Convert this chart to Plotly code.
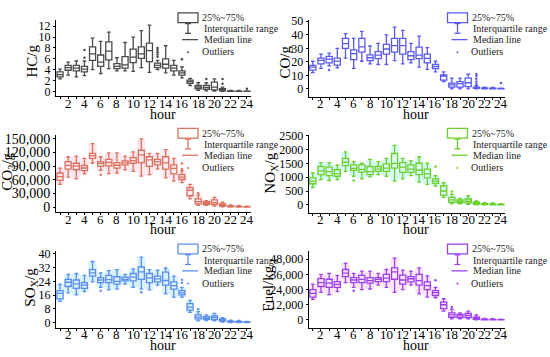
import plotly.graph_objects as go

W, H = 550, 357
hours = list(range(1, 25))

# ---------------- data ----------------
hc_low = [2.3, 3.0, 2.7, 2.9, 4.0, 3.3, 4.2, 3.8, 3.8, 3.7, 4.4, 3.5, 4.0, 3.4, 3.0, 2.5, 1.1, 0.2, 0.1, 0.05, 0.0, 0.0, 0.0, 0.0]
hc_q1 = [2.7, 3.9, 3.8, 3.6, 5.7, 4.6, 5.8, 4.2, 4.3, 5.3, 6.1, 5.5, 4.4, 4.3, 3.8, 3.0, 1.5, 0.5, 0.4, 0.3, 0.1, 0.02, 0.01, 0.0]
hc_med = [3.1, 4.4, 4.3, 4.1, 6.9, 5.4, 7.4, 4.6, 4.9, 6.3, 6.9, 7.5, 4.8, 5.0, 4.3, 3.4, 1.8, 0.8, 0.7, 0.8, 0.3, 0.05, 0.03, 0.02]
hc_q3 = [3.6, 4.8, 4.8, 4.6, 8.2, 6.7, 9.1, 5.1, 6.4, 7.8, 8.2, 8.9, 5.2, 6.0, 4.8, 3.8, 2.1, 1.1, 1.1, 1.7, 0.5, 0.1, 0.08, 0.05]
hc_high = [4.1, 5.4, 5.6, 5.6, 9.8, 9.2, 10.9, 6.2, 9.0, 10.0, 11.2, 12.2, 5.7, 8.4, 5.7, 4.5, 2.4, 1.6, 1.6, 2.3, 0.8, 0.2, 0.2, 0.1]
hc_out_h = [4, 4, 13, 13, 13, 13, 13, 16, 19, 21, 21, 24]
hc_out_v = [7.6, 6.2, 8.0, 7.6, 7.2, 6.8, 6.4, 5.9, 2.3, 2.3, 1.4, 0.5]

co_low = [12, 15.1, 17, 15.6, 22.8, 15.1, 20.4, 18.5, 18, 18, 20.9, 18.5, 19.2, 16.1, 14.4, 12.5, 5.3, 0, 0, 0, 0, 0, 0, 0]
co_q1 = [13.9, 18.5, 19.2, 17.5, 30, 21.6, 27.2, 20.9, 22.4, 25.7, 27.2, 25.7, 21.6, 22.4, 19.2, 14.9, 6.5, 1.2, 1.2, 1.7, 0.3, 0.1, 0.05, 0]
co_med = [16, 21, 22, 20.5, 33.5, 26, 31, 23, 25, 29.5, 32, 32, 24.5, 25, 22.5, 16.5, 9.5, 3, 3.8, 4.5, 0.8, 0.3, 0.2, 0.1]
co_q3 = [17.3, 22.8, 24, 22.8, 37.3, 28.8, 37.3, 25.2, 27.6, 32.9, 37.3, 37.3, 27.6, 30.8, 25.7, 18, 10.3, 4.3, 5.3, 7.9, 1.2, 0.7, 0.5, 0.3]
co_high = [20.4, 25.7, 26.4, 30, 40.9, 37.3, 42.5, 31.7, 33.7, 40, 45.7, 43.3, 33.7, 39, 30.5, 20.4, 12.5, 7.9, 7.9, 10.8, 2.4, 1.3, 1.0, 0.6]
co_out_h = [3, 21, 21, 21, 21, 21, 24]
co_out_v = [14, 3.6, 5.5, 7.5, 9.5, 11, 4.3]

co2_low = [50000, 65700, 62000, 73000, 96400, 80700, 73600, 75000, 82100, 78600, 67900, 71400, 83600, 64300, 57100, 53600, 17900, 3600, 3600, 2100, 700, 0, 0, 0]
co2_q1 = [58600, 83600, 82100, 80000, 107100, 89300, 90700, 85700, 92900, 96400, 97900, 89300, 92900, 83600, 72900, 60700, 25000, 7100, 5700, 5700, 2100, 500, 300, 100]
co2_med = [67000, 91500, 90000, 86000, 113000, 96000, 98000, 92000, 97000, 102000, 115000, 104000, 100000, 97000, 85000, 66000, 37000, 12000, 9000, 10000, 4500, 1200, 800, 400]
co2_q3 = [75000, 100000, 96400, 91400, 117900, 100000, 105000, 97900, 101400, 108600, 125000, 110700, 105000, 110700, 92900, 71400, 42900, 17900, 12100, 15700, 7100, 2500, 1800, 1000]
co2_high = [85700, 110700, 112100, 107000, 139300, 110700, 119300, 119300, 112100, 121400, 150000, 117900, 117900, 126400, 107000, 80000, 50000, 26400, 14300, 21400, 10700, 5000, 4000, 2000]
co2_out_h = [6, 16, 16, 18]
co2_out_v = [71000, 96000, 84000, 30700]

nox_low = [622, 916, 880, 916, 1209, 1033, 939, 1010, 1092, 1033, 857, 939, 1057, 822, 740, 681, 270, 35, 35, 23, 0, 0, 0, 0]
nox_q1 = [763, 1092, 1057, 1033, 1420, 1244, 1186, 1092, 1209, 1209, 1327, 1174, 1174, 1092, 974, 775, 352, 94, 70, 70, 23, 10, 5, 2]
nox_med = [860, 1230, 1200, 1130, 1540, 1320, 1280, 1200, 1290, 1330, 1500, 1360, 1290, 1250, 1120, 860, 500, 180, 120, 130, 60, 25, 15, 8]
nox_q3 = [974, 1385, 1362, 1268, 1679, 1444, 1444, 1385, 1385, 1479, 1855, 1526, 1444, 1503, 1291, 939, 681, 270, 176, 211, 94, 45, 35, 20]
nox_high = [1150, 1526, 1526, 1444, 1913, 1561, 1503, 1644, 1561, 1679, 2148, 1679, 1597, 1738, 1503, 1057, 798, 387, 235, 329, 141, 80, 70, 40]
nox_out_h = [6, 16, 18]
nox_out_v = [880, 1385, 480]

sox_low = [12.3, 17.3, 16.1, 18, 23.7, 20.5, 19.1, 19.5, 22.4, 20.5, 19.5, 19.1, 21.8, 16.7, 14.8, 14.8, 5.9, 0.9, 1.1, 0.9, 0.2, 0, 0, 0]
sox_q1 = [13.8, 21, 19.9, 19.9, 27.1, 23.3, 23.3, 22.4, 24.3, 24.3, 25.2, 23.3, 23.7, 21.8, 19.5, 16.1, 7.2, 2.1, 1.9, 1.7, 0.8, 0.2, 0.1, 0.05]
sox_med = [17, 23.5, 22.5, 21.8, 29, 24.8, 25, 24, 25.2, 26.5, 29.5, 26, 25.5, 24.5, 21.5, 17.3, 9, 3.2, 2.6, 2.8, 1.4, 0.4, 0.3, 0.15]
sox_q3 = [18.6, 25.2, 24.8, 23.3, 30.9, 26.2, 27.5, 26.7, 26.5, 28.6, 32.4, 28.6, 27.1, 29.4, 23.7, 18.6, 11, 4.4, 3.4, 3.8, 2.1, 0.8, 0.6, 0.3]
sox_high = [22.4, 28.1, 28.6, 27.5, 35.6, 29, 30.3, 30.9, 28.1, 31.3, 38.1, 30.9, 30.5, 31.8, 27.1, 20.5, 12.9, 6.3, 4.4, 5.3, 2.8, 1.4, 1.2, 0.6]
sox_out_h = [6, 11, 16, 16, 18]
sox_out_v = [18.6, 17.6, 25, 23, 7.8]

fuel_low = [16200, 21800, 20000, 22300, 29500, 25700, 23900, 24400, 27500, 25700, 21800, 23900, 27500, 20500, 18000, 17500, 6900, 800, 800, 800, 0, 0, 0, 0]
fuel_q1 = [18000, 26400, 25700, 25700, 34100, 29500, 29500, 29000, 30300, 30300, 32100, 28200, 30000, 27500, 23900, 19300, 9000, 2100, 1800, 1800, 500, 100, 50, 20]
fuel_med = [21000, 29500, 29000, 28000, 37000, 31500, 32000, 31000, 32000, 33000, 38000, 31500, 32500, 31000, 27000, 21500, 12000, 4000, 3200, 3500, 1300, 300, 200, 100]
fuel_q3 = [23900, 32600, 32100, 30300, 39800, 33400, 35200, 33400, 33400, 35900, 41100, 35400, 34100, 35900, 30000, 23100, 14100, 5600, 4400, 5100, 2100, 700, 500, 300]
fuel_high = [28200, 35900, 36700, 35200, 44900, 36700, 38500, 38500, 36700, 39800, 48800, 39300, 38500, 41100, 34700, 25700, 16700, 8500, 5600, 6900, 3900, 1300, 1000, 600]
fuel_out_h = [6, 16, 18]
fuel_out_v = [23100, 31300, 10300]

x_ticktext = [str(h) if h % 2 == 0 else "" for h in hours]
legend_texts = ["25%~75%", "Interquartile range", "Median line", "Outliers"]

# ---------------- panel definitions ----------------
FONT = "Times New Roman, Liberation Serif, serif"
def fx(px): return px / W
def fy(py): return 1 - py / H

panels = [
    dict(title="HC/g", low=hc_low, q1=hc_q1, med=hc_med, q3=hc_q3, high=hc_high, oh=hc_out_h, ov=hc_out_v,
         color="#4a4a4a", shade=None, col=0, row=0, yr=[-0.9, 13.2], tv=[0, 2, 4, 6, 8, 10, 12], fmt="d",
         tfs=12, tx=32, ty=57),
    dict(title="CO/g", low=co_low, q1=co_q1, med=co_med, q3=co_q3, high=co_high, oh=co_out_h, ov=co_out_v,
         color="#5a5af0", shade=None, col=1, row=0, yr=[-6, 51.2], tv=[0, 10, 20, 30, 40, 50], fmt="d",
         tfs=12, tx=285, ty=58),
    dict(title="CO<sub>2</sub>/g", low=co2_low, q1=co2_q1, med=co2_med, q3=co2_q3, high=co2_high, oh=co2_out_h, ov=co2_out_v,
         color="#d9725f", shade="rgba(252,212,226,0.55)", col=0, row=1, yr=[-10700, 157900],
         tv=[0, 30000, 60000, 90000, 120000, 150000], fmt=",d", tfs=14, tx=8, ty=170),
    dict(title="NO<sub>X</sub>/g", low=nox_low, q1=nox_q1, med=nox_med, q3=nox_q3, high=nox_high, oh=nox_out_h, ov=nox_out_v,
         color="#6fcf2a", shade="rgba(195,248,244,0.7)", col=1, row=1, yr=[-278, 2514],
         tv=[0, 500, 1000, 1500, 2000, 2500], fmt="d", tfs=12, tx=271, ty=172),
    dict(title="SO<sub>X</sub>/g", low=sox_low, q1=sox_q1, med=sox_med, q3=sox_q3, high=sox_high, oh=sox_out_h, ov=sox_out_v,
         color="#5b8def", shade="rgba(200,236,250,0.7)", col=0, row=2, yr=[-2.96, 41.8],
         tv=[0, 8, 16, 24, 32, 40], fmt="d", tfs=12, tx=31, ty=289),
    dict(title="Fuel/kg", low=fuel_low, q1=fuel_q1, med=fuel_med, q3=fuel_q3, high=fuel_high, oh=fuel_out_h, ov=fuel_out_v,
         color="#9b40ee", shade="rgba(250,212,240,0.6)", col=1, row=2, yr=[-6500, 54500],
         tv=[0, 12000, 24000, 36000, 48000], fmt=",d", tfs=12, tx=268, ty=290),
]

XDOM = [(56, 251), (308.7, 505)]
ROW_DY = [0, 118.6, 237.2]
LEG_DX = [0, 269.5]

fig = go.Figure()
layout = dict(width=W, height=H, margin=dict(l=0, r=0, t=0, b=0), autosize=False,
              paper_bgcolor="white", plot_bgcolor="rgba(0,0,0,0)", showlegend=False,
              font=dict(family=FONT, color="black"))
shapes, annotations = [], []

for i, p in enumerate(panels):
    n = i + 1
    xa = "x" if n == 1 else f"x{n}"
    ya = "y" if n == 1 else f"y{n}"
    dy = ROW_DY[p["row"]]
    x0, x1 = XDOM[p["col"]]
    bot = (92.7 if p["col"] == 0 else 93.3) + dy
    top = 14 + dy

    if p["shade"]:
        fig.add_trace(go.Bar(x=hours, y=[h - l for h, l in zip(p["high"], p["low"])], base=p["low"],
                             width=1.0, marker=dict(color=p["shade"], line=dict(width=0)),
                             xaxis=xa, yaxis=ya, hoverinfo="skip"))
    fig.add_trace(go.Box(x=hours, q1=p["q1"], median=p["med"], q3=p["q3"],
                         lowerfence=p["low"], upperfence=p["high"],
                         width=0.75, whiskerwidth=0.6, boxpoints=False,
                         line=dict(color=p["color"], width=1.3), fillcolor="rgba(255,255,255,0)",
                         xaxis=xa, yaxis=ya))
    fig.add_trace(go.Scatter(x=p["oh"], y=p["ov"], mode="markers",
                             marker=dict(color=p["color"], size=2.5),
                             xaxis=xa, yaxis=ya, hoverinfo="skip"))

    axis_common = dict(showline=True, linecolor="black", linewidth=1, ticks="outside", ticklen=2,
                       tickcolor="black", showgrid=False, zeroline=False, fixedrange=True)
    layout["xaxis" if n == 1 else f"xaxis{n}"] = dict(
        domain=[fx(x0), fx(x1)], anchor=ya, range=[0.5, 24.5], tickvals=hours,
        showticklabels=False, **axis_common)
    layout["yaxis" if n == 1 else f"yaxis{n}"] = dict(
        domain=[fy(bot), fy(top)], anchor=xa, range=p["yr"], tickvals=p["tv"], tickformat=p["fmt"],
        tickfont=dict(size=p["tfs"], family=FONT), **axis_common)

    # x tick labels placed on the axis' own scale
    for h, t in zip(hours, x_ticktext):
        if t:
            annotations.append(dict(text=t, x=h, xref=xa, y=fy(100 + dy), yref="paper",
                                    showarrow=False, xanchor="center", yanchor="middle",
                                    font=dict(size=13, family=FONT)))

    # axis titles
    annotations.append(dict(text=p["title"], x=fx(p["tx"]), y=fy(p["ty"]), xref="paper", yref="paper",
                            textangle=-90, showarrow=False, xanchor="center", yanchor="middle",
                            font=dict(size=15, family=FONT)))
    annotations.append(dict(text="hour", x=fx((x0 + x1) / 2 + 9), y=fy(111 + dy), xref="paper", yref="paper",
                            showarrow=False, xanchor="center", yanchor="middle",
                            font=dict(size=14, family=FONT)))

    # custom legend
    lx = LEG_DX[p["col"]]
    c = p["color"]
    shapes.append(dict(type="rect", xref="paper", yref="paper", x0=fx(178 + lx), x1=fx(198 + lx),
                       y0=fy(17 + dy), y1=fy(7 + dy), line=dict(color=c, width=1.3)))
    shapes.append(dict(type="line", xref="paper", yref="paper", x0=fx(188 + lx), x1=fx(188 + lx),
                       y0=fy(18 + dy), y1=fy(28 + dy), line=dict(color=c, width=1.3)))
    for cy in (18, 28):
        shapes.append(dict(type="line", xref="paper", yref="paper", x0=fx(185 + lx), x1=fx(191 + lx),
                           y0=fy(cy + dy), y1=fy(cy + dy), line=dict(color=c, width=1.3)))
    shapes.append(dict(type="line", xref="paper", yref="paper", x0=fx(182 + lx), x1=fx(198 + lx),
                       y0=fy(34.5 + dy), y1=fy(34.5 + dy), line=dict(color=c, width=1.3)))
    shapes.append(dict(type="circle", xref="paper", yref="paper", x0=fx(187.2 + lx), x1=fx(188.8 + lx),
                       y0=fy(48.3 + dy), y1=fy(46.7 + dy), line=dict(color=c, width=0.5), fillcolor=c))
    for txt, tx, ty in zip(legend_texts, (200, 201.5, 201.5, 199.5), (11.7, 23.5, 34.5, 47)):
        annotations.append(dict(text=txt, x=fx(tx + lx), y=fy(ty + dy), xref="paper", yref="paper",
                                showarrow=False, xanchor="left", yanchor="middle",
                                font=dict(size=10, family=FONT, color="#222")))

layout["shapes"] = shapes
layout["annotations"] = annotations
layout["barmode"] = "overlay"
fig.update_layout(**layout)

post = ("document.documentElement.style.margin='0';document.body.style.margin='0';"
        "document.body.style.padding='0';"
        "var d=document.querySelector('.plotly-graph-div');"
        "d.style.position='absolute';d.style.left='0px';d.style.top='0px';")
fig.write_html("out.html", config={"displayModeBar": False}, post_script=post)
